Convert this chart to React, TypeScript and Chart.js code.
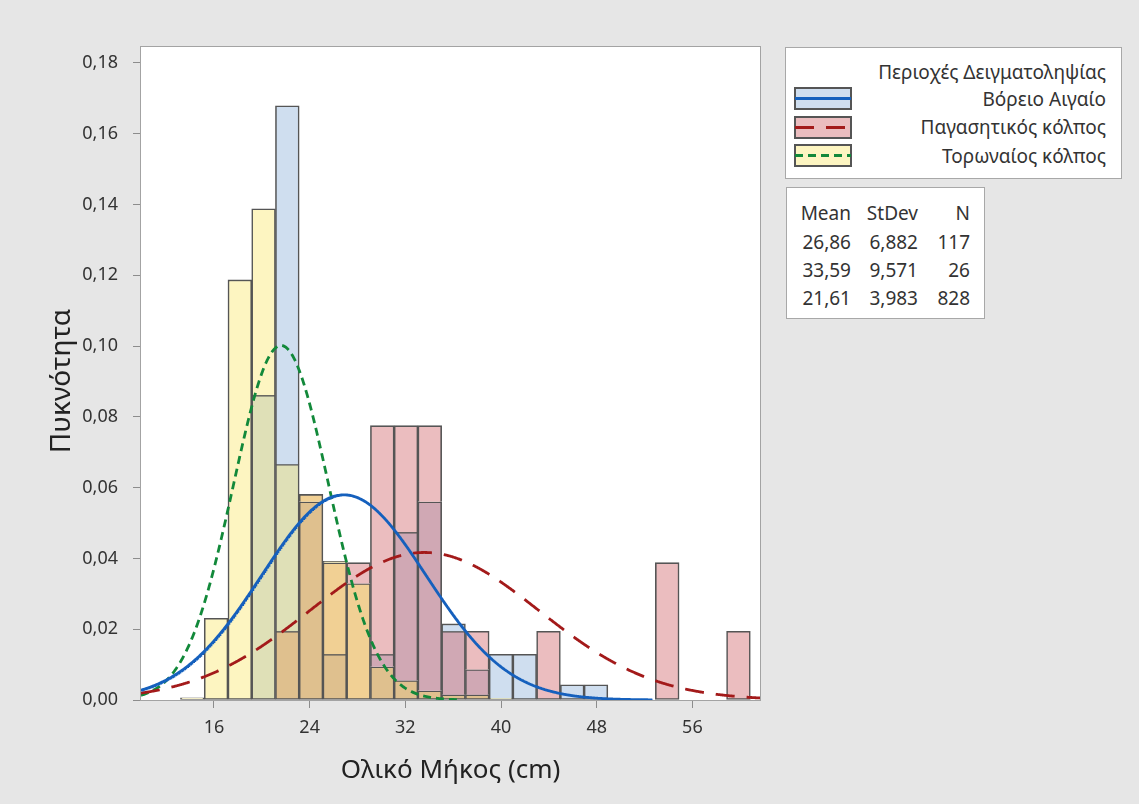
import React, { useEffect, useRef } from "react";
import { Chart, registerables } from "chart.js";

Chart.register(...registerables);

// Histogram bins (cm): left edge of the first bin and common width
const BIN_START = 13.2;
const BIN_WIDTH = 1.985;

// Density per bin for each sampling area
const boreioAigaio = [0, 0, 0, 0.0861, 0.1679, 0.056, 0.0129, 0, 0.0129, 0.0474, 0.056, 0.0215, 0.0086, 0.0129, 0.0129, 0, 0.0043, 0.0043, 0, 0, 0, 0, 0, 0];
const pagasitikos = [0, 0, 0, 0, 0.0194, 0.0581, 0.0388, 0.0388, 0.0775, 0.0775, 0.0775, 0.0194, 0.0194, 0, 0, 0.0194, 0, 0, 0, 0, 0.0388, 0, 0, 0.0194];
const toronaios = [0.0006, 0.0231, 0.1187, 0.1388, 0.0666, 0.0581, 0.0392, 0.0329, 0.0094, 0.0055, 0.0026, 0.0015, 0.0015, 0.0006, 0, 0, 0, 0, 0, 0, 0, 0, 0, 0];

const groupLabels = ["Βόρειο Αιγαίο", "Παγασητικός κόλπος", "Τορωναίος κόλπος"];
const groupMeans = [26.86, 33.59, 21.61];
const groupStDevs = [6.882, 9.571, 3.983];
const groupN = [117, 26, 828];

const xTicks = [16, 24, 32, 40, 48, 56];
const yTicks = [0, 0.02, 0.04, 0.06, 0.08, 0.1, 0.12, 0.14, 0.16, 0.18];

const X_TITLE = "Ολικό Μήκος (cm)";
const Y_TITLE = "Πυκνότητα";

const X_MIN = 9.9;
const X_MAX = 61.65;
const Y_MAX = 0.1845;

const FONT = "'Noto Sans', 'Open Sans', sans-serif";
const TEXT = "#333333";

const groupKeys = ["B", "P", "Y"];
const lineColors = ["#1560bd", "#a31a1a", "#12893a"];
const lineDashes: number[][] = [[], [19, 12], [8, 5]];
const swatchFills = ["#cfdeef", "#ebbdbf", "#fdf5c1"];

// Fill for each region of a bin, keyed by the groups whose bars cover it
const overlapFills: Record<string, string> = {
  B: "#cfdeef",
  P: "#ebbdbf",
  Y: "#fdf5c1",
  BY: "#dfe0b7",
  BP: "#d0a8b4",
  PY: "#f1d094",
  BPY: "#dfc08e",
};

const comma = (v: number, d: number) => v.toFixed(d).replace(".", ",");

function buildSegments() {
  const series = [boreioAigaio, pagasitikos, toronaios];
  const byKey: Record<string, { x: number; y: [number, number] }[]> = {};
  for (let k = 0; k < boreioAigaio.length; k++) {
    const x = BIN_START + (k + 0.5) * BIN_WIDTH;
    const levels = Array.from(new Set(series.map((s) => s[k]).filter((v) => v > 0))).sort((a, b) => a - b);
    let prev = 0;
    for (const lvl of levels) {
      const key = groupKeys.filter((_, g) => series[g][k] >= lvl).join("");
      (byKey[key] = byKey[key] || []).push({ x, y: [prev, lvl] });
      prev = lvl;
    }
  }
  return byKey;
}

function normalCurve(mean: number, sd: number) {
  const pts: { x: number; y: number }[] = [];
  const lo = Math.max(X_MIN, mean - 3.75 * sd);
  const hi = Math.min(X_MAX, mean + 3.75 * sd);
  for (let x = lo; x <= hi + 1e-9; x += 0.05) {
    const z = (x - mean) / sd;
    pts.push({ x, y: Math.exp(-0.5 * z * z) / (sd * Math.sqrt(2 * Math.PI)) });
  }
  return pts;
}

const plotFrame = {
  id: "plotFrame",
  beforeDraw(chart: any) {
    const { ctx, chartArea: a } = chart;
    ctx.save();
    ctx.fillStyle = "#e6e6e6";
    ctx.fillRect(0, 0, chart.width, chart.height);
    ctx.fillStyle = "#ffffff";
    ctx.fillRect(a.left, a.top, a.right - a.left, a.bottom - a.top);
    ctx.restore();
  },
  afterDraw(chart: any) {
    const { ctx, chartArea: a } = chart;
    ctx.save();
    ctx.strokeStyle = "#a3a3a3";
    ctx.lineWidth = 1;
    ctx.strokeRect(a.left - 0.5, a.top - 0.5, a.right - a.left + 1, a.bottom - a.top + 1);
    // vertical axis title
    ctx.translate(62, 381);
    ctx.rotate(-Math.PI / 2);
    ctx.font = `28px ${FONT}`;
    ctx.fillStyle = "#222222";
    ctx.textAlign = "center";
    ctx.textBaseline = "middle";
    ctx.fillText(Y_TITLE, 0, 0);
    ctx.restore();
  },
};

function Swatch({ fill, color, dash }: { fill: string; color: string; dash: number[] }) {
  return (
    <svg width={58} height={23} style={{ position: "absolute", left: 794, top: -11.5 }}>
      <rect x={1} y={1} width={56} height={21} fill={fill} stroke="#555555" strokeWidth={2} />
      <line x1={1} y1={11.5} x2={57} y2={11.5} stroke={color} strokeWidth={3} strokeDasharray={dash.length ? dash.join(" ") : undefined} />
    </svg>
  );
}

export default function App() {
  const canvasRef = useRef<HTMLCanvasElement | null>(null);

  useEffect(() => {
    const segs = buildSegments();
    const bw = 1.6;
    const barSets = Object.keys(overlapFills)
      .filter((k) => segs[k])
      .map((k) => ({
        type: "bar" as const,
        data: segs[k],
        backgroundColor: overlapFills[k],
        borderColor: "#555555",
        borderWidth: (c: any) => {
          const lo = c.raw ? c.raw.y[0] : 0;
          return { top: bw, left: bw, right: bw, bottom: lo === 0 ? bw : 0 };
        },
        borderSkipped: false,
        grouped: false,
        barPercentage: 1,
        categoryPercentage: 1,
        order: 2,
      }));
    const lineSets = groupLabels.map((label, g) => ({
      type: "line" as const,
      label,
      data: normalCurve(groupMeans[g], groupStDevs[g]),
      borderColor: lineColors[g],
      borderWidth: 2.8,
      borderDash: lineDashes[g],
      pointRadius: 0,
      fill: false,
      tension: 0,
      order: 1,
    }));

    const chart = new Chart(canvasRef.current as HTMLCanvasElement, {
      type: "bar",
      data: { datasets: [...barSets, ...lineSets] as any },
      options: {
        animation: false,
        responsive: false,
        devicePixelRatio: 1,
        events: [],
        layout: { padding: { left: 0, top: 47, right: 379, bottom: 0 } },
        plugins: { legend: { display: false }, tooltip: { enabled: false } },
        scales: {
          x: {
            type: "linear",
            offset: false,
            min: X_MIN,
            max: X_MAX,
            afterBuildTicks: (s: any) => {
              s.ticks = xTicks.map((v) => ({ value: v }));
            },
            afterFit: (s: any) => {
              s.height = 104;
            },
            grid: { offset: false, drawOnChartArea: false, drawTicks: true, tickLength: 8, color: "#8c8c8c" },
            border: { display: false },
            ticks: {
              autoSkip: false,
              maxRotation: 0,
              padding: 9,
              color: TEXT,
              font: { family: FONT, size: 18 },
              callback: (v: any) => String(v),
            },
            title: {
              display: true,
              text: X_TITLE,
              color: "#222222",
              font: { family: FONT, size: 26 },
              padding: { top: 0, bottom: 18 },
            },
          },
          y: {
            type: "linear",
            min: 0,
            max: Y_MAX,
            afterBuildTicks: (s: any) => {
              s.ticks = yTicks.map((v) => ({ value: v }));
            },
            afterFit: (s: any) => {
              s.width = 141;
            },
            grid: { drawOnChartArea: false, drawTicks: true, tickLength: 8, color: "#8c8c8c" },
            border: { display: false },
            ticks: {
              padding: 15,
              color: TEXT,
              font: { family: FONT, size: 18 },
              callback: (v: any) => comma(Number(v), 2),
            },
          },
        },
      },
      plugins: [plotFrame],
    } as any);
    return () => chart.destroy();
  }, []);

  const legendRows = [98.8, 127.3, 155.8];
  const statRows = [241.6, 269.9, 298.2];
  const txt: React.CSSProperties = { position: "absolute", fontFamily: FONT, fontSize: 19, color: TEXT, lineHeight: "22px", whiteSpace: "nowrap" };

  return (
    <div style={{ position: "fixed", left: 0, top: 0, width: 1139, height: 804, overflow: "hidden", background: "#e6e6e6" }}>
      <canvas ref={canvasRef} width={1139} height={804} style={{ position: "absolute", left: 0, top: 0 }} />
      <div style={{ position: "absolute", left: 785, top: 47, width: 335, height: 130, background: "#fff", border: "1px solid #a8a8a8" }} />
      <div style={{ ...txt, right: 1139 - 1106, top: 72 - 11 }}>Περιοχές Δειγματοληψίας</div>
      {groupLabels.map((label, g) => (
        <div key={label} style={{ position: "absolute", left: 0, top: legendRows[g], width: 0, height: 0 }}>
          <Swatch fill={swatchFills[g]} color={lineColors[g]} dash={lineDashes[g]} />
          <div style={{ ...txt, left: 806, width: 300, textAlign: "right", top: -11 }}>{label}</div>
        </div>
      ))}
      <div style={{ position: "absolute", left: 786, top: 187, width: 197, height: 130, background: "#fff", border: "1px solid #a8a8a8" }} />
      <div style={{ ...txt, right: 1139 - 851, top: 213.3 - 11 }}>Mean</div>
      <div style={{ ...txt, right: 1139 - 918, top: 213.3 - 11 }}>StDev</div>
      <div style={{ ...txt, right: 1139 - 970, top: 213.3 - 11 }}>N</div>
      {groupMeans.map((m, g) => (
        <React.Fragment key={g}>
          <div style={{ ...txt, right: 1139 - 851, top: statRows[g] - 11 }}>{comma(m, 2)}</div>
          <div style={{ ...txt, right: 1139 - 918, top: statRows[g] - 11 }}>{comma(groupStDevs[g], 3)}</div>
          <div style={{ ...txt, right: 1139 - 970, top: statRows[g] - 11 }}>{groupN[g]}</div>
        </React.Fragment>
      ))}
    </div>
  );
}
